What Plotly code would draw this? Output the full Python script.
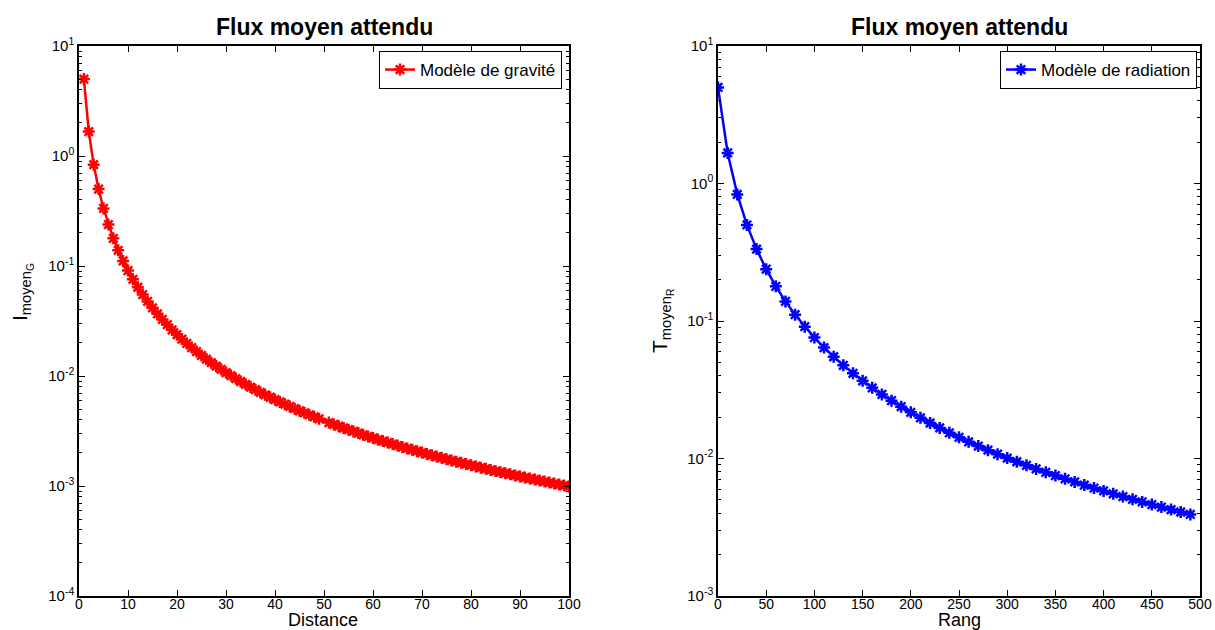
import plotly.graph_objects as go

# ---------------- data ----------------
grav_distance = [1, 2, 3, 4, 5, 6, 7, 8, 9, 10, 11, 12, 13, 14, 15, 16, 17, 18, 19, 20,
                 21, 22, 23, 24, 25, 26, 27, 28, 29, 30, 31, 32, 33, 34, 35, 36, 37, 38, 39, 40,
                 41, 42, 43, 44, 45, 46, 47, 48, 49, 51, 52, 53, 54, 55, 56, 57, 58, 59, 60,
                 61, 62, 63, 64, 65, 66, 67, 68, 69, 70, 71, 72, 73, 74, 75, 76, 77, 78, 79, 80,
                 81, 82, 83, 84, 85, 86, 87, 88, 89, 90, 91, 92, 93, 94, 95, 96, 97, 98, 99, 100]
grav_flux = [5.0, 1.6667, 0.8333, 0.5, 0.3333, 0.2381, 0.1786, 0.1389, 0.1111, 0.09091,
             0.07576, 0.06410, 0.05495, 0.04762, 0.04167, 0.03676, 0.03268, 0.02924, 0.02632, 0.02381,
             0.02165, 0.01976, 0.01812, 0.01667, 0.01538, 0.01425, 0.01323, 0.01232, 0.01149, 0.01075,
             0.01008, 0.009470, 0.008913, 0.008403, 0.007937, 0.007508, 0.007112, 0.006748, 0.006410, 0.006098,
             0.005807, 0.005537, 0.005285, 0.005051, 0.004831, 0.004625, 0.004433, 0.004252, 0.004082,
             0.003771, 0.003628, 0.003494, 0.003367, 0.003247, 0.003133, 0.003026, 0.002923, 0.002825, 0.002732,
             0.002644, 0.002560, 0.002480, 0.002404, 0.002331, 0.002262, 0.002195, 0.002132, 0.002070, 0.002012,
             0.001956, 0.001903, 0.001851, 0.001802, 0.001754, 0.001709, 0.001665, 0.001623, 0.001582, 0.001543,
             0.001506, 0.001469, 0.001434, 0.001401, 0.001368, 0.001337, 0.001306, 0.001277, 0.001248, 0.001221,
             0.001194, 0.001169, 0.001144, 0.001120, 0.001096, 0.001074, 0.001052, 0.001031, 0.001010, 0.000990]

rad_rang = [0, 10, 20, 30, 40, 50, 60, 70, 80, 90, 100, 110, 120, 130, 140, 150, 160, 170, 180, 190,
            200, 210, 220, 230, 240, 250, 260, 270, 280, 290, 300, 310, 320, 330, 340, 350, 360, 370, 380, 390,
            400, 410, 420, 430, 440, 450, 460, 470, 480, 490]
rad_flux = [5.0, 1.6667, 0.8333, 0.5, 0.3333, 0.2381, 0.1786, 0.1389, 0.1111, 0.09091,
            0.07576, 0.06410, 0.05495, 0.04762, 0.04167, 0.03676, 0.03268, 0.02924, 0.02632, 0.02381,
            0.02165, 0.01976, 0.01812, 0.01667, 0.01538, 0.01425, 0.01323, 0.01232, 0.01149, 0.01075,
            0.01008, 0.009470, 0.008913, 0.008403, 0.007937, 0.007508, 0.007112, 0.006748, 0.006410, 0.006098,
            0.005807, 0.005537, 0.005285, 0.005051, 0.004831, 0.004625, 0.004433, 0.004252, 0.004082, 0.003922]

title_text = "Flux moyen attendu"
left_xticks = [0, 10, 20, 30, 40, 50, 60, 70, 80, 90, 100]
right_xticks = [0, 50, 100, 150, 200, 250, 300, 350, 400, 450, 500]
left_decades = [-4, -3, -2, -1, 0, 1]
right_decades = [-3, -2, -1, 0, 1]

# ---------------- layout helpers ----------------
W, H = 1215, 630
FONT = "Liberation Sans, Arial, Helvetica, sans-serif"

def px_x(p):
    return p / W

def px_y(p):
    return 1 - p / H

def minor_vals(decades):
    out = []
    for d in decades[:-1]:
        for k in range(2, 10):
            out.append(k * 10 ** d)
    return out

def yaxis_cfg(decades):
    return dict(
        type="log",
        range=[decades[0], decades[-1]],
        domain=[px_y(596), px_y(46)],
        tickvals=[10 ** d for d in decades],
        ticktext=["10<sup>%d</sup>" % d for d in decades],
        ticks="inside", ticklen=6, tickwidth=1, tickcolor="black",
        minor=dict(ticks="inside", ticklen=3, tickwidth=1, tickcolor="black",
                   tickvals=minor_vals(decades), showgrid=False),
        showline=True, linecolor="black", linewidth=1.5, mirror="ticks",
        showgrid=False, zeroline=False,
        tickfont=dict(family=FONT, size=15, color="black"),
        automargin=False,
    )

def xaxis_cfg(ticks, rng, domain):
    return dict(
        range=rng, domain=domain,
        tickvals=ticks,
        ticks="inside", ticklen=6, tickwidth=1, tickcolor="black",
        showline=True, linecolor="black", linewidth=1.5, mirror="ticks",
        showgrid=False, zeroline=False,
        tickfont=dict(family=FONT, size=14, color="black"),
        ticklabelstandoff=-6,
        automargin=False,
    )

fig = go.Figure()
fig.add_trace(go.Scatter(
    x=grav_distance, y=grav_flux, mode="lines+markers", name="Modèle de gravité",
    line=dict(color="#ff0000", width=2.5),
    marker=dict(symbol="asterisk", size=10, color="#ff0000",
                line=dict(color="#ff0000", width=2.5)),
    xaxis="x", yaxis="y", legend="legend",
))
fig.add_trace(go.Scatter(
    x=rad_rang, y=rad_flux, mode="lines+markers", name="Modèle de radiation",
    line=dict(color="#0000ff", width=2.5),
    marker=dict(symbol="asterisk", size=10, color="#0000ff",
                line=dict(color="#0000ff", width=2.5)),
    xaxis="x2", yaxis="y2", legend="legend2",
))

lx = [px_x(79), px_x(569)]
rx = [px_x(718), px_x(1200)]

legend_common = dict(xanchor="right", yanchor="top",
                     bgcolor="white", bordercolor="black", borderwidth=1,
                     font=dict(family=FONT, size=17, color="black"),
                     itemwidth=30, tracegroupgap=0)

fig.update_layout(
    width=W, height=H,
    margin=dict(l=0, r=0, t=0, b=0),
    paper_bgcolor="white", plot_bgcolor="white",
    font=dict(family=FONT, color="black"),
    xaxis=dict(xaxis_cfg(left_xticks, [0, 100], lx), anchor="y"),
    yaxis=dict(yaxis_cfg(left_decades), anchor="x"),
    xaxis2=dict(xaxis_cfg(right_xticks, [0, 500], rx), anchor="y2"),
    yaxis2=dict(yaxis_cfg(right_decades), anchor="x2"),
    legend=dict(legend_common, x=px_x(562), y=px_y(51)),
    legend2=dict(legend_common, x=px_x(1197), y=px_y(51)),
    showlegend=True,
)

ann = []
for cx in [(79 + 569) / 2, (718 + 1200) / 2]:
    ann.append(dict(text="<b>%s</b>" % title_text, x=px_x(cx), y=px_y(27),
                    xref="paper", yref="paper", showarrow=False,
                    xanchor="center", yanchor="middle",
                    font=dict(family=FONT, size=23, color="black")))
ann.append(dict(text="Distance", x=px_x(323), y=px_y(620), xref="paper", yref="paper",
                showarrow=False, xanchor="center", yanchor="middle",
                font=dict(family=FONT, size=18, color="black")))
ann.append(dict(text="Rang", x=px_x(959), y=px_y(620), xref="paper", yref="paper",
                showarrow=False, xanchor="center", yanchor="middle",
                font=dict(family=FONT, size=18, color="black")))
ann.append(dict(text="I<sub>moyen<sub>G</sub></sub>", x=px_x(22), y=px_y(292),
                xref="paper", yref="paper", showarrow=False, textangle=-90,
                xanchor="center", yanchor="middle",
                font=dict(family=FONT, size=21, color="black")))
ann.append(dict(text="T<sub>moyen<sub>R</sub></sub>", x=px_x(662), y=px_y(321),
                xref="paper", yref="paper", showarrow=False, textangle=-90,
                xanchor="center", yanchor="middle",
                font=dict(family=FONT, size=21, color="black")))
fig.update_layout(annotations=ann)

fig.write_html("out.html")
